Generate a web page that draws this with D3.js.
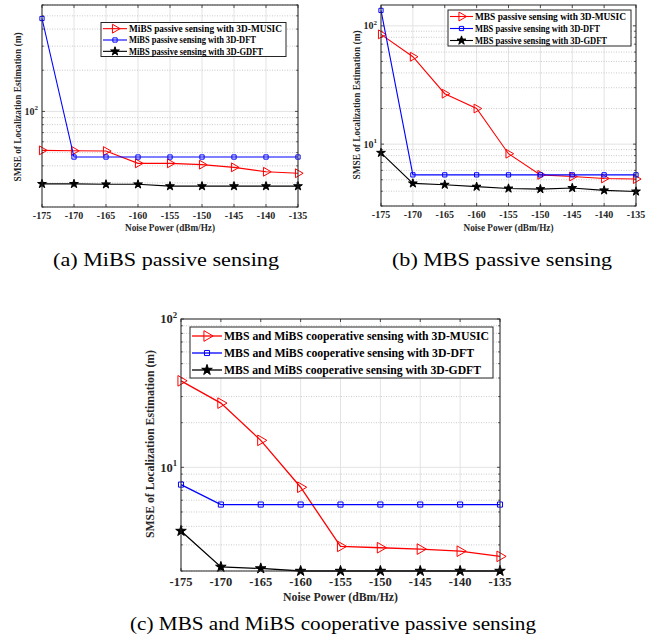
<!DOCTYPE html>
<html>
<head>
<meta charset="utf-8">
<script src="https://cdn.jsdelivr.net/npm/d3@7"></script>
<style>
  body { margin: 0; background: #fff; }
  svg { display: block; font-family: "Liberation Serif", "Times New Roman", serif; }
</style>
</head>
<body>
<svg id="chart" width="660" height="642"></svg>
<script>
// noise power axis (dBm/Hz), shared by all panels
var noisePower = [-175, -170, -165, -160, -155, -150, -145, -140, -135];
var xTicks = [-175, -170, -165, -160, -155, -150, -145, -140, -135];

// (a) MiBS passive sensing
var aMusic = [51.9, 51.5, 51.3, 41.7, 41.7, 40.8, 39.0, 36.2, 35.3];
var aDft   = [478, 46.4, 46.4, 46.4, 46.4, 46.4, 46.4, 46.4, 46.4];
var aGdft  = [29.5, 29.5, 29.3, 29.3, 28.4, 28.4, 28.4, 28.4, 28.4];
var aNames = ["MiBS passive sensing with 3D-MUSIC", "MiBS passive sensing with 3D-DFT", "MiBS passive sensing with 3D-GDFT"];

// (b) MBS passive sensing
var bMusic = [84.7, 54.8, 26.7, 20.0, 8.3, 5.5, 5.33, 5.13, 5.07];
var bDft   = [135, 5.5, 5.5, 5.5, 5.5, 5.5, 5.5, 5.5, 5.5];
var bGdft  = [8.45, 4.66, 4.54, 4.37, 4.22, 4.17, 4.26, 4.07, 3.98];
var bNames = ["MBS passive sensing with 3D-MUSIC", "MBS passive sensing with 3D-DFT", "MBS passive sensing with 3D-GDFT"];

// (c) cooperative sensing
var cMusic = [38.3, 27.1, 15.2, 7.34, 2.93, 2.87, 2.81, 2.72, 2.51];
var cDft   = [7.65, 5.61, 5.61, 5.61, 5.61, 5.61, 5.61, 5.61, 5.61];
var cGdft  = [3.72, 2.13, 2.08, 2.0, 2.0, 2.0, 2.0, 2.0, 2.0];
var cNames = ["MBS and MiBS cooperative sensing with 3D-MUSIC", "MBS and MiBS cooperative sensing with 3D-DFT", "MBS and MiBS cooperative sensing with 3D-GDFT"];

var captions = ["(a) MiBS passive sensing", "(b) MBS passive sensing", "(c) MBS and MiBS cooperative passive sensing"];
var yTitle = "SMSE of Localization Estimation (m)";
var xTitle = "Noise Power (dBm/Hz)";

var svg = d3.select("#chart");

var styles = [
  {color: "#ff0000", symbol: "triangle", fill: "none"},
  {color: "#0000ff", symbol: "square", fill: "none"},
  {color: "#000000", symbol: "star", fill: "#000000"}
];

function marker(sel, st, k){
  var type = st.symbol == "triangle" ? d3.symbolTriangle : (st.symbol == "square" ? d3.symbolSquare : d3.symbolStar);
  var size = st.symbol == "triangle" ? 34 : (st.symbol == "square" ? 18 : 24);
  sel.attr("d", d3.symbol().type(type).size(size * k * k))
    .attr("fill", st.fill)
    .attr("stroke", st.color)
    .attr("stroke-width", 1);
  return sel;
}

function drawPanel(p){
  var g = svg.append("g");
  var x = d3.scaleLinear().domain([-175, -135]).range([p.left, p.right]);
  var y = d3.scaleLog().domain(p.ylim).range([p.bottom, p.top]);

  // minor log values
  var minor = [];
  for (var e = -1; e <= 3; e++){
    for (var m = 1; m <= 9; m++){
      var v = m * Math.pow(10, e);
      if (v >= p.ylim[0] * 0.999 && v <= p.ylim[1] * 1.001) minor.push(v);
    }
  }
  var majors = minor.filter(function(v){ return Math.abs(Math.log10(v) - Math.round(Math.log10(v))) < 1e-9; });

  // grid
  g.append("g").selectAll("line").data(xTicks).enter().append("line")
    .attr("x1", function(d){ return x(d); }).attr("x2", function(d){ return x(d); })
    .attr("y1", p.top).attr("y2", p.bottom)
    .attr("stroke", "#e3e3e3").attr("stroke-width", 1);
  g.append("g").selectAll("line").data(minor).enter().append("line")
    .attr("x1", p.left).attr("x2", p.right)
    .attr("y1", function(d){ return y(d); }).attr("y2", function(d){ return y(d); })
    .attr("stroke", function(d){ return majors.indexOf(d) >= 0 ? "#e3e3e3" : "#b5b5b5"; })
    .attr("stroke-dasharray", function(d){ return majors.indexOf(d) >= 0 ? null : "1,1.5"; })
    .attr("stroke-width", function(d){ return majors.indexOf(d) >= 0 ? 1 : 0.7; });

  // ticks (inward, MATLAB style)
  var ax = g.append("g").attr("stroke", "#262626").attr("stroke-width", 0.8);
  xTicks.forEach(function(t){
    ax.append("line").attr("x1", x(t)).attr("x2", x(t)).attr("y1", p.bottom).attr("y2", p.bottom - 3);
    ax.append("line").attr("x1", x(t)).attr("x2", x(t)).attr("y1", p.top).attr("y2", p.top + 3);
  });
  minor.forEach(function(v){
    var len = majors.indexOf(v) >= 0 ? 3 : 1.8;
    ax.append("line").attr("x1", p.left).attr("x2", p.left + len).attr("y1", y(v)).attr("y2", y(v));
    ax.append("line").attr("x1", p.right).attr("x2", p.right - len).attr("y1", y(v)).attr("y2", y(v));
  });

  // data
  var series = [p.music, p.dft, p.gdft];
  series.forEach(function(vals, i){
    var st = styles[i];
    var pts = noisePower.map(function(n, j){ return [x(n), y(vals[j])]; });
    g.append("path").attr("d", d3.line()(pts))
      .attr("fill", "none").attr("stroke", st.color).attr("stroke-width", p.lw);
    g.append("g").selectAll("path").data(pts).enter().append("path")
      .call(marker, st, p.mk)
      .attr("transform", function(d){ return "translate(" + d[0] + "," + d[1] + ")" + (st.symbol == "triangle" ? " rotate(90)" : ""); });
  });

  // box
  g.append("rect").attr("x", p.left).attr("y", p.top)
    .attr("width", p.right - p.left).attr("height", p.bottom - p.top)
    .attr("fill", "none").attr("stroke", "#262626").attr("stroke-width", 1);

  // x tick labels
  g.append("g").selectAll("text").data(xTicks).enter().append("text")
    .attr("x", function(d){ return x(d); }).attr("y", p.bottom + p.tfs + 2)
    .attr("text-anchor", "middle").attr("font-size", p.tfs).attr("font-weight", "bold")
    .attr("fill", "#262626")
    .text(function(d){ return d; });

  // y tick labels 10^k
  majors.forEach(function(v){
    var t = g.append("text").attr("x", p.left - 4).attr("y", y(v) + p.tfs * 0.35)
      .attr("text-anchor", "end").attr("font-size", p.tfs).attr("font-weight", "bold").attr("fill", "#262626");
    t.append("tspan").text("10");
    t.append("tspan").attr("font-size", p.tfs * 0.7).attr("dy", -p.tfs * 0.45).text(Math.round(Math.log10(v)));
  });

  // axis titles
  g.append("text").attr("x", (p.left + p.right) / 2).attr("y", p.xTitleY)
    .attr("text-anchor", "middle").attr("font-size", p.fs).attr("font-weight", "bold").attr("fill", "#262626")
    .attr("textLength", p.xTitleW).attr("lengthAdjust", "spacingAndGlyphs")
    .text(xTitle);
  g.append("text").attr("transform", "translate(" + p.yTitleX + "," + p.yTitleCY + ") rotate(-90)")
    .attr("text-anchor", "middle").attr("font-size", p.fs).attr("font-weight", "bold").attr("fill", "#262626")
    .attr("textLength", p.yTitleW).attr("lengthAdjust", "spacingAndGlyphs")
    .text(yTitle);

  // legend
  var lg = g.append("g");
  lg.append("rect").attr("x", p.leg.x).attr("y", p.leg.y).attr("width", p.leg.w).attr("height", p.leg.h)
    .attr("fill", "#fff").attr("stroke", "#262626").attr("stroke-width", 1);
  p.names.forEach(function(name, i){
    var st = styles[i];
    var ly = p.leg.y + p.leg.h * (i + 0.5) / 3 + 0.5;
    lg.append("line").attr("x1", p.leg.x + 2).attr("x2", p.leg.x + p.leg.line)
      .attr("y1", ly).attr("y2", ly).attr("stroke", st.color).attr("stroke-width", p.lw);
    lg.append("path").call(marker, st, p.mk)
      .attr("transform", "translate(" + (p.leg.x + 2 + (p.leg.line - 2) / 2) + "," + ly + ")" + (st.symbol == "triangle" ? " rotate(90)" : ""));
    lg.append("text").attr("x", p.leg.x + p.leg.line + 2).attr("y", ly + p.leg.fs * 0.35)
      .attr("font-size", p.leg.fs).attr("font-weight", "bold").attr("fill", "#000")
      .attr("textLength", p.leg.tw[i]).attr("lengthAdjust", "spacingAndGlyphs")
      .text(name);
  });

  // caption
  svg.append("text").attr("x", p.capX).attr("y", p.capY)
    .attr("text-anchor", "middle").attr("font-size", 19).attr("fill", "#000")
    .attr("textLength", p.capW).attr("lengthAdjust", "spacingAndGlyphs")
    .text(p.caption);
}

drawPanel({
  left: 42, right: 298, top: 5, bottom: 207, ylim: [20, 600],
  music: aMusic, dft: aDft, gdft: aGdft, names: aNames, caption: captions[0],
  fs: 9.5, tfs: 10, lw: 1.1, mk: 1,
  xTitleY: 231, xTitleW: 90, yTitleX: 21, yTitleCY: 107, yTitleW: 149,
  leg: {x: 101, y: 22.5, w: 185, h: 34, line: 26, fs: 9.5, tw: [153, 127, 134]},
  capX: 166, capY: 266, capW: 226
});

drawPanel({
  left: 381, right: 636, top: 5, bottom: 206, ylim: [3, 150],
  music: bMusic, dft: bDft, gdft: bGdft, names: bNames, caption: captions[1],
  fs: 9.5, tfs: 10, lw: 1.1, mk: 1,
  xTitleY: 231, xTitleW: 90, yTitleX: 360, yTitleCY: 105, yTitleW: 149,
  leg: {x: 448, y: 10, w: 183, h: 36, line: 25, fs: 9.5, tw: [151, 125, 132]},
  capX: 502, capY: 266, capW: 220
});

drawPanel({
  left: 181, right: 500, top: 319, bottom: 571, ylim: [2, 100],
  music: cMusic, dft: cDft, gdft: cGdft, names: cNames, caption: captions[2],
  fs: 12, tfs: 12.5, lw: 1.3, mk: 1.2,
  xTitleY: 601, xTitleW: 115, yTitleX: 154, yTitleCY: 444, yTitleW: 188,
  leg: {x: 190, y: 327, w: 303, h: 51, line: 32, fs: 12, tw: [265, 250, 257]},
  capX: 333, capY: 630, capW: 406
});
</script>
</body>
</html>
